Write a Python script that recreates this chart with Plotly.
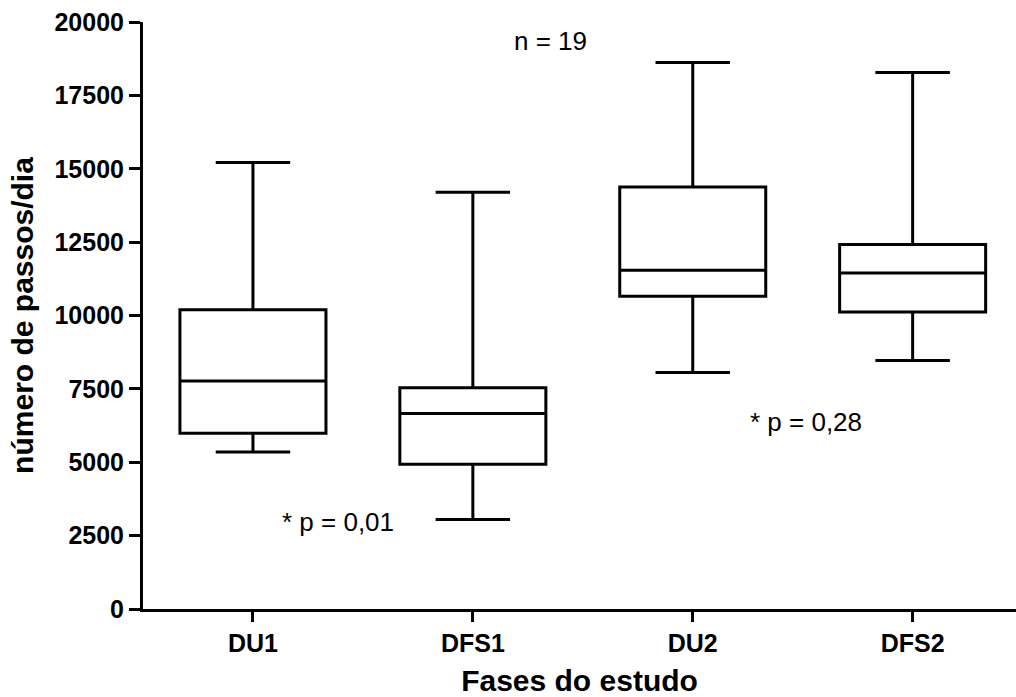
import plotly.graph_objects as go

categories = ["DU1", "DFS1", "DU2", "DFS2"]
lower_whisker = [5350, 3050, 8060, 8470]
q1_values = [5990, 4930, 10660, 10120]
median_values = [7770, 6660, 11540, 11450]
q3_values = [10200, 7540, 14380, 12420]
upper_whisker = [15210, 14200, 18620, 18280]
y_ticks = [0, 2500, 5000, 7500, 10000, 12500, 15000, 17500, 20000]

FONT = "Liberation Sans, Arial, sans-serif"

fig = go.Figure()
fig.add_trace(go.Box(
    x=categories,
    q1=q1_values,
    median=median_values,
    q3=q3_values,
    lowerfence=lower_whisker,
    upperfence=upper_whisker,
    boxpoints=False,
    fillcolor="white",
    line=dict(color="black", width=3),
    width=0.664,
    whiskerwidth=0.51,
    showlegend=False,
    hoverinfo="skip",
))

fig.update_layout(
    width=1016, height=697,
    margin=dict(l=143, r=0, t=22, b=88),
    paper_bgcolor="white", plot_bgcolor="white",
    font=dict(family=FONT, color="black"),
    xaxis=dict(
        type="category", range=[-0.5, 3.47],
        showline=True, linecolor="black", linewidth=3,
        ticks="outside", ticklen=10, tickwidth=3, tickcolor="black",
        tickfont=dict(size=25, family=FONT, weight="bold"),
        showgrid=False, zeroline=False,
        title=dict(text="Fases do estudo", font=dict(size=30, family=FONT, weight="bold"), standoff=14),
    ),
    yaxis=dict(
        range=[0, 20000], tickvals=y_ticks, ticktext=[str(v) for v in y_ticks],
        showline=True, linecolor="black", linewidth=3,
        ticks="outside", ticklen=11, tickwidth=3, tickcolor="black",
        tickfont=dict(size=25, family=FONT, weight="bold"),
        showgrid=False, zeroline=False,
        title=dict(text="número de passos/dia", font=dict(size=30, family=FONT, weight="bold"), standoff=12),
    ),
    annotations=[
        dict(x=0.386, y=2960, xref="x", yref="y", text="* p = 0,01", showarrow=False,
             font=dict(size=26, family=FONT)),
        dict(x=2.514, y=6370, xref="x", yref="y", text="* p = 0,28", showarrow=False,
             font=dict(size=26, family=FONT)),
        dict(x=1.355, y=19360, xref="x", yref="y", text="n = 19", showarrow=False,
             font=dict(size=26, family=FONT)),
    ],
)

fig.write_html("out.html")
